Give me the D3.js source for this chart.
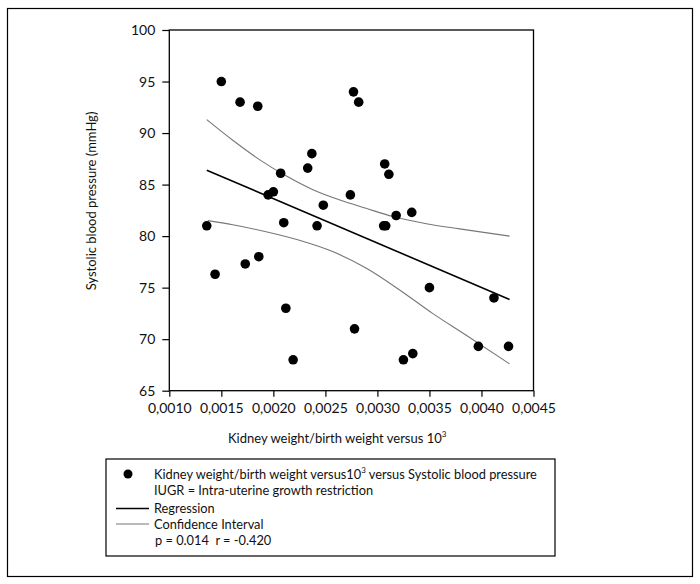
<!DOCTYPE html>
<html>
<head>
<meta charset="utf-8">
<script src="https://cdn.jsdelivr.net/npm/d3@7"></script>
<style>
  body { margin: 0; background: #fff; }
  svg { display: block; font-family: Lato, "Open Sans", sans-serif; }
</style>
</head>
<body>
<div id="chart"></div>
<script>
// kidney weight / birth weight vs systolic blood pressure
const kwbw = [0.00150, 0.00168, 0.00185, 0.00277, 0.00282, 0.00237, 0.00233, 0.00207, 0.00195, 0.00200,
  0.00248, 0.00274, 0.00210, 0.00307, 0.00311, 0.00242, 0.00306, 0.00308, 0.00318, 0.00333,
  0.00136, 0.00144, 0.00173, 0.00186, 0.00212, 0.00219, 0.00278, 0.00350, 0.00412, 0.00325,
  0.00334, 0.00397, 0.00426];
const sbp = [95.0, 93.0, 92.6, 94.0, 93.0, 88.0, 86.6, 86.1, 84.0, 84.3,
  83.0, 84.0, 81.3, 87.0, 86.0, 81.0, 81.0, 81.0, 82.0, 82.3,
  81.0, 76.3, 77.3, 78.0, 73.0, 68.0, 71.0, 75.0, 74.0, 68.0,
  68.6, 69.3, 69.3];

const regX = [0.00136, 0.00427];
const regY = [86.4, 73.85];

const ciUpperX = [0.00136, 0.00161, 0.00187, 0.00213, 0.00238, 0.00264, 0.00289, 0.00315, 0.00347, 0.00379, 0.00427];
const ciUpperY = [91.3, 89.3, 87.4, 85.8, 84.5, 83.5, 82.7, 81.9, 81.2, 80.7, 80.0];
const ciLowerX = [0.00137, 0.00161, 0.00194, 0.00225, 0.00257, 0.00289, 0.00321, 0.00353, 0.00385, 0.00427];
const ciLowerY = [81.5, 81.1, 80.4, 79.6, 78.5, 76.9, 74.8, 72.5, 70.4, 67.6];

const xTicks = [0.0010, 0.0015, 0.0020, 0.0025, 0.0030, 0.0035, 0.0040, 0.0045];
const yTicks = [65, 70, 75, 80, 85, 90, 95, 100];

const W = 700, H = 584;
const svg = d3.select('#chart').append('svg').attr('width', W).attr('height', H);

// outer frame
svg.append('rect').attr('x', 7.5).attr('y', 8.5).attr('width', 685).attr('height', 568)
  .attr('fill', 'none').attr('stroke', '#000').attr('stroke-width', 1.2);

const x = d3.scaleLinear().domain([0.0010, 0.0045]).range([169.3, 533.5]);
const y = d3.scaleLinear().domain([65, 100]).range([390.7, 30]);

const commaFmt = d3.formatLocale({ decimal: ',', thousands: '.', grouping: [3], currency: ['', ''] }).format('.4f');

const xAxis = svg.append('g').attr('transform', `translate(0,${y(65)})`)
  .call(d3.axisBottom(x).tickValues(xTicks).tickFormat(commaFmt).tickSize(6).tickPadding(6));
const yAxis = svg.append('g').attr('transform', `translate(${x(0.0010)},0)`)
  .call(d3.axisLeft(y).tickValues(yTicks).tickFormat(d3.format('d')).tickSize(7).tickPadding(7));
[xAxis, yAxis].forEach(a => {
  a.select('.domain').remove();
  a.selectAll('line').attr('stroke', '#000').attr('stroke-width', 1.2);
  a.selectAll('text').attr('fill', '#111').style('font-size', '14px').style('font-family', 'Lato, sans-serif');
});

// plot box
svg.append('rect').attr('x', x(0.0010)).attr('y', y(100))
  .attr('width', x(0.0045) - x(0.0010)).attr('height', y(65) - y(100))
  .attr('fill', 'none').attr('stroke', '#000').attr('stroke-width', 1.3);

// confidence interval curves
const ciLine = d3.line().x(d => x(d[0])).y(d => y(d[1])).curve(d3.curveMonotoneX);
svg.append('path').datum(d3.zip(ciUpperX, ciUpperY)).attr('d', ciLine)
  .attr('fill', 'none').attr('stroke', '#777').attr('stroke-width', 1.1);
svg.append('path').datum(d3.zip(ciLowerX, ciLowerY)).attr('d', ciLine)
  .attr('fill', 'none').attr('stroke', '#777').attr('stroke-width', 1.1);

// regression line
svg.append('path').datum(d3.zip(regX, regY))
  .attr('d', d3.line().x(d => x(d[0])).y(d => y(d[1])))
  .attr('fill', 'none').attr('stroke', '#000').attr('stroke-width', 1.6);

// points
svg.append('g').selectAll('circle').data(d3.zip(kwbw, sbp)).join('circle')
  .attr('cx', d => x(d[0])).attr('cy', d => y(d[1])).attr('r', 4.8).attr('fill', '#000');

// axis titles
const xt = svg.append('text').attr('x', 228).attr('y', 443)
  .style('font-size', '13px').attr('fill', '#111');
xt.append('tspan').text('Kidney weight/birth weight versus 10');
xt.append('tspan').attr('dy', -6).style('font-size', '8px').text('3');

svg.append('text').attr('transform', 'translate(96,201) rotate(-90)')
  .attr('text-anchor', 'middle').style('font-size', '13px').attr('fill', '#111')
  .text('Systolic blood pressure (mmHg)');

// legend
const lg = svg.append('g').style('font-size', '12.8px').attr('fill', '#111');
lg.append('rect').attr('x', 106).attr('y', 459).attr('width', 449).attr('height', 97)
  .attr('fill', 'none').attr('stroke', '#000').attr('stroke-width', 1.2);
lg.append('circle').attr('cx', 128).attr('cy', 474).attr('r', 4.5).attr('fill', '#000');
const t1 = lg.append('text').attr('x', 154).attr('y', 479);
t1.append('tspan').text('Kidney weight/birth weight versus10');
t1.append('tspan').attr('dy', -6).style('font-size', '8px').text('3');
t1.append('tspan').attr('dy', 6).text(' versus Systolic blood pressure');
lg.append('text').attr('x', 154).attr('y', 495).text('IUGR = Intra-uterine growth restriction');
lg.append('line').attr('x1', 116).attr('x2', 149).attr('y1', 508.5).attr('y2', 508.5)
  .attr('stroke', '#000').attr('stroke-width', 1.4);
lg.append('text').attr('x', 154).attr('y', 513).text('Regression');
lg.append('line').attr('x1', 116).attr('x2', 149).attr('y1', 524).attr('y2', 524)
  .attr('stroke', '#777').attr('stroke-width', 1.1);
lg.append('text').attr('x', 154).attr('y', 529).text('Confidence Interval');
lg.append('text').attr('x', 155).attr('y', 545)
  .attr('xml:space', 'preserve').text('p = 0.014  r = -0.420');
</script>
</body>
</html>
